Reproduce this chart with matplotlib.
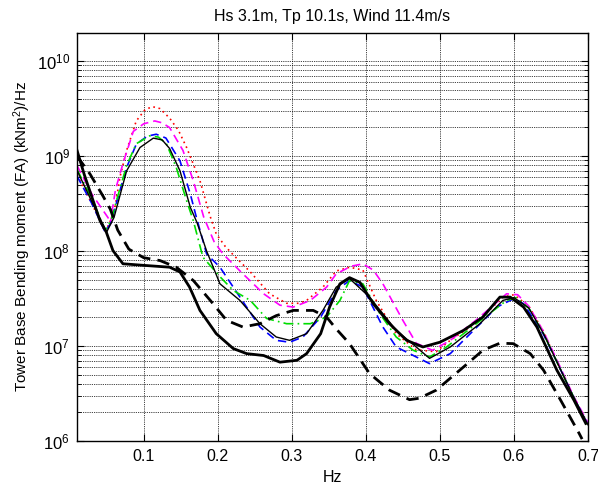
import matplotlib
matplotlib.use("Agg")
import matplotlib.pyplot as plt
from matplotlib.ticker import LogLocator, FixedLocator, NullFormatter

plt.rcParams['font.family'] = ['Liberation Sans', 'DejaVu Sans']
plt.rcParams['mathtext.fontset'] = 'custom'
plt.rcParams['mathtext.rm'] = 'Liberation Sans'
plt.rcParams['mathtext.it'] = 'Liberation Sans:italic'

title = "Hs 3.1m, Tp 10.1s, Wind 11.4m/s"
xlabel = "Hz"
ylabel = "Tower Base Bending moment (FA) (kNm$^2$)/Hz"
xticks = [0.1, 0.2, 0.3, 0.4, 0.5, 0.6, 0.7]

# --- spectra: frequency (Hz) and log10 of PSD ---
red_f = [0.010, 0.030, 0.048, 0.060, 0.068, 0.077, 0.090, 0.102, 0.112, 0.122, 0.135, 0.147,
         0.158, 0.176, 0.190, 0.198, 0.210, 0.221, 0.244, 0.270, 0.293, 0.310, 0.320, 0.342,
         0.360, 0.378, 0.396, 0.414, 0.441, 0.468, 0.495, 0.514, 0.550, 0.585, 0.600, 0.620,
         0.640, 0.660, 0.680, 0.700]
red_lg = [8.80, 8.50, 8.20, 8.40, 8.78, 9.06, 9.37, 9.49, 9.52, 9.50, 9.40, 9.27,
          9.09, 8.74, 8.36, 8.18, 8.05, 7.96, 7.78, 7.55, 7.45, 7.45, 7.48, 7.62,
          7.79, 7.83, 7.80, 7.48, 7.13, 6.96, 6.94, 7.06, 7.25, 7.515, 7.54, 7.42,
          7.15, 6.80, 6.47, 6.18]

mag_f = [0.010, 0.030, 0.052, 0.055, 0.058, 0.062, 0.072, 0.086, 0.100, 0.115, 0.125, 0.135,
         0.153, 0.167, 0.181, 0.195, 0.207, 0.234, 0.262, 0.284, 0.302, 0.325, 0.347, 0.360,
         0.380, 0.396, 0.410, 0.423, 0.450, 0.468, 0.490, 0.514, 0.550, 0.590, 0.605, 0.620,
         0.640, 0.660, 0.680, 0.700]
mag_lg = [8.90, 8.60, 8.35, 8.28, 8.45, 8.65, 8.92, 9.26, 9.34, 9.37, 9.35, 9.30,
          9.06, 8.74, 8.36, 8.10, 7.97, 7.76, 7.55, 7.43, 7.41, 7.48, 7.62, 7.76,
          7.84, 7.865, 7.80, 7.655, 7.27, 7.03, 6.955, 7.06, 7.28, 7.55, 7.54, 7.42,
          7.15, 6.82, 6.48, 6.19]

blue_f = [0.010, 0.030, 0.048, 0.056, 0.064, 0.077, 0.090, 0.105, 0.117, 0.130, 0.149, 0.163,
          0.171, 0.185, 0.203, 0.230, 0.257, 0.279, 0.297, 0.315, 0.339, 0.360, 0.378, 0.396,
          0.423, 0.441, 0.468, 0.486, 0.514, 0.550, 0.577, 0.600, 0.613, 0.640, 0.660, 0.680,
          0.700]
blue_lg = [8.79, 8.50, 8.20, 8.30, 8.53, 8.88, 9.125, 9.21, 9.23, 9.19, 8.95, 8.60,
           8.36, 7.97, 7.83, 7.515, 7.20, 7.06, 7.04, 7.095, 7.305, 7.585, 7.69, 7.62,
           7.20, 6.99, 6.885, 6.815, 6.92, 7.20, 7.41, 7.50, 7.445, 7.12, 6.80, 6.47,
           6.17]

green_f = [0.010, 0.030, 0.048, 0.056, 0.064, 0.077, 0.090, 0.108, 0.120, 0.131, 0.144, 0.158,
           0.167, 0.180, 0.203, 0.221, 0.244, 0.266, 0.293, 0.325, 0.347, 0.365, 0.378, 0.396,
           0.419, 0.441, 0.464, 0.486, 0.509, 0.550, 0.590, 0.603, 0.620, 0.640, 0.660, 0.680,
           0.700]
green_lg = [8.86, 8.55, 8.22, 8.32, 8.55, 8.90, 9.13, 9.213, 9.20, 9.125, 8.88, 8.53,
            8.32, 7.935, 7.73, 7.585, 7.48, 7.29, 7.235, 7.235, 7.305, 7.48, 7.69, 7.655,
            7.34, 7.095, 6.955, 6.885, 6.99, 7.24, 7.48, 7.51, 7.40, 7.13, 6.80, 6.47,
            6.16]

thin_f = [0.010, 0.030, 0.050, 0.060, 0.077, 0.095, 0.113, 0.125, 0.135, 0.149, 0.163, 0.172,
          0.185, 0.203, 0.230, 0.257, 0.279, 0.297, 0.320, 0.342, 0.360, 0.378, 0.405, 0.441,
          0.468, 0.486, 0.514, 0.554, 0.585, 0.600, 0.620, 0.640, 0.660, 0.680, 0.700]
thin_lg = [8.85, 8.52, 8.20, 8.355, 8.845, 9.09, 9.189, 9.17, 9.08, 8.845, 8.46, 8.30,
           8.00, 7.655, 7.48, 7.235, 7.095, 7.06, 7.13, 7.375, 7.62, 7.71, 7.515, 7.165,
           6.99, 6.87, 6.99, 7.235, 7.48, 7.51, 7.40, 7.13, 6.80, 6.47, 6.17]

thick_f = [0.010, 0.020, 0.030, 0.041, 0.0495, 0.0585, 0.072, 0.099, 0.135, 0.149, 0.162, 0.176,
           0.198, 0.221, 0.239, 0.262, 0.284, 0.307, 0.320, 0.339, 0.351, 0.365, 0.378, 0.392,
           0.410, 0.432, 0.455, 0.477, 0.500, 0.532, 0.558, 0.581, 0.595, 0.613, 0.631, 0.658,
           0.681, 0.697]
thick_lg = [9.06, 8.80, 8.57, 8.32, 8.20, 8.005, 7.866, 7.85, 7.83, 7.78, 7.62, 7.375,
            7.13, 6.973, 6.92, 6.90, 6.83, 6.85, 6.92, 7.13, 7.41, 7.655, 7.72, 7.67,
            7.445, 7.235, 7.06, 6.99, 7.04, 7.165, 7.305, 7.515, 7.515, 7.41, 7.20, 6.745,
            6.43, 6.185]

dash_f = [0.010, 0.0276, 0.045, 0.055, 0.065, 0.080, 0.100, 0.122, 0.144, 0.167, 0.190, 0.212,
          0.234, 0.257, 0.279, 0.302, 0.329, 0.347, 0.360, 0.378, 0.405, 0.432, 0.459, 0.472,
          0.495, 0.532, 0.558, 0.581, 0.599, 0.622, 0.640, 0.663, 0.688, 0.692]
dash_lg = [9.00, 8.81, 8.58, 8.44, 8.22, 8.02, 7.93, 7.90, 7.83, 7.69, 7.48, 7.27,
           7.20, 7.235, 7.32, 7.375, 7.375, 7.305, 7.18, 7.025, 6.71, 6.535, 6.435, 6.45,
           6.535, 6.78, 6.955, 7.03, 7.025, 6.92, 6.745, 6.43, 6.08, 6.02]


def psd(lg):
    return [10.0 ** v for v in lg]


fig = plt.figure(figsize=(5.98, 4.86), dpi=100)
ax = fig.add_axes([0.1288, 0.0926, 0.8545, 0.8405])

ax.plot(red_f, psd(red_lg), color='red', lw=1.2, linestyle=(0, (1, 2.2)))
ax.plot(mag_f, psd(mag_lg), color='magenta', lw=1.2, linestyle=(0, (5, 3)))
ax.plot(blue_f, psd(blue_lg), color='blue', lw=1.2, linestyle=(0, (5, 3)))
ax.plot(green_f, psd(green_lg), color='#00dd00', lw=1.2, linestyle=(0, (6, 2.5, 1, 2.5)))
ax.plot(thin_f, psd(thin_lg), color='black', lw=1.0, linestyle='-')
ax.plot(dash_f, psd(dash_lg), color='black', lw=2.0, linestyle=(0, (4.5, 2.6)))
ax.plot(thick_f, psd(thick_lg), color='black', lw=2.0, linestyle='-')

ax.set_yscale('log')
ax.set_xlim(0.01, 0.7)
ax.set_ylim(1e6, 2e10)
ax.xaxis.set_major_locator(FixedLocator(xticks))
ax.set_xticklabels([f"{t:g}" for t in xticks])
ax.yaxis.set_major_locator(LogLocator(base=10, numticks=10))
ax.yaxis.set_minor_locator(LogLocator(base=10, subs=range(2, 10), numticks=100))
ax.yaxis.set_minor_formatter(NullFormatter())

ax.grid(True, which='major', axis='both', color='black', linestyle=(0, (1, 1.2)), lw=0.6)
ax.grid(True, which='minor', axis='y', color='black', linestyle=(0, (1, 1.2)), lw=0.6)
ax.tick_params(which='both', direction='in', top=True, right=True)
ax.tick_params(axis='x', labelsize=11.5, pad=6)
ax.tick_params(axis='y', labelsize=12, pad=5)
ax.tick_params(which='major', length=5)
ax.tick_params(which='minor', length=3)
for s in ax.spines.values():
    s.set_linewidth(1.0)

ax.set_title(title, fontsize=11.5, pad=8)
ax.set_xlabel(xlabel, fontsize=11.5, labelpad=4)
ax.set_ylabel(ylabel, fontsize=11, labelpad=3)

fig.savefig("out.png", dpi=100)
